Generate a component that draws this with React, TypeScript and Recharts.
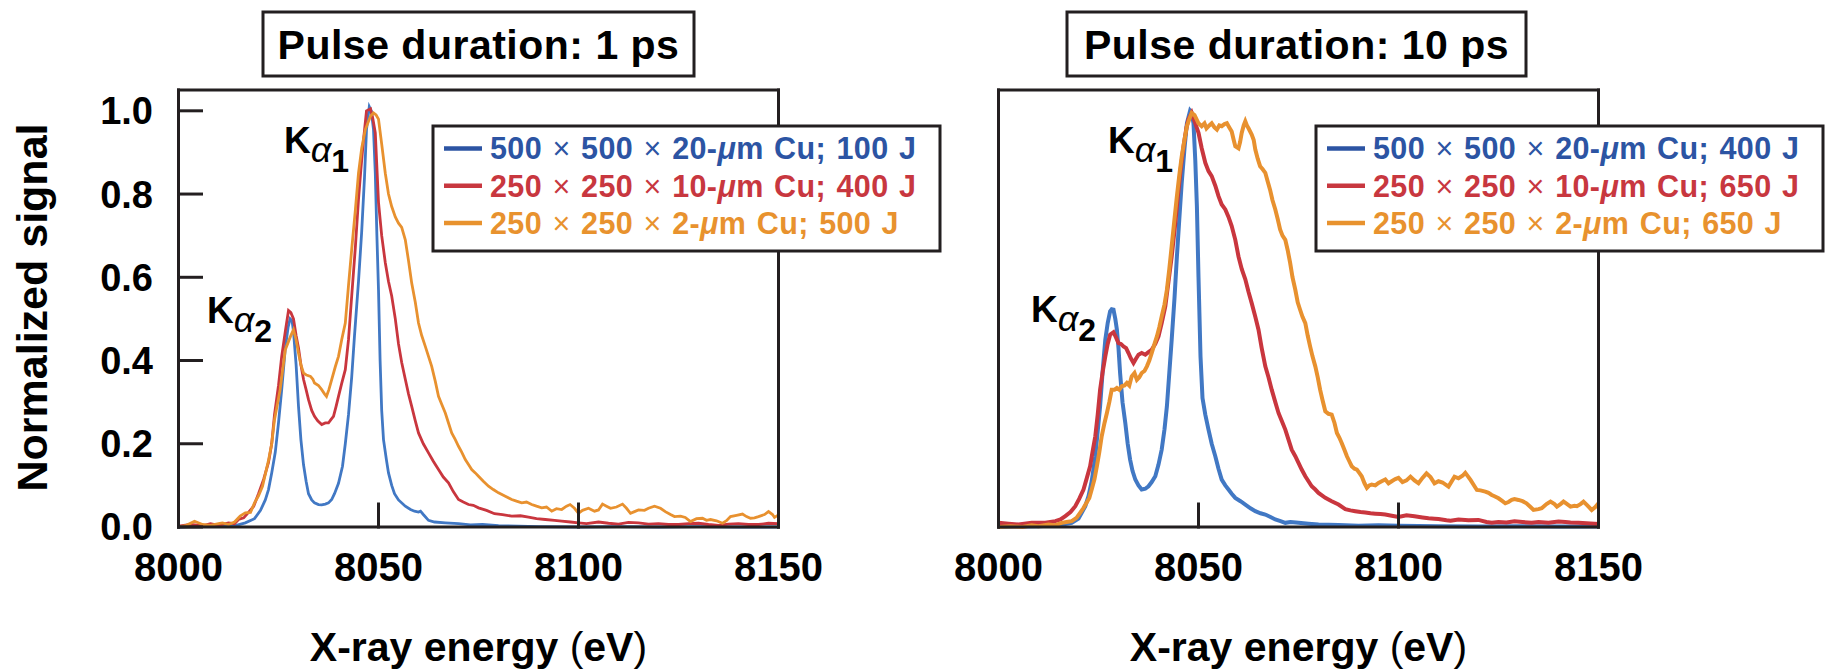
import { LineChart, Line, XAxis, YAxis } from "recharts";

// energy ticks and signal ticks
const xTicks = [8000, 8050, 8100, 8150];
const yTicks = [0, 0.2, 0.4, 0.6, 0.8, 1.0];

const titles = ["Pulse duration: 1 ps", "Pulse duration: 10 ps"];

// [energy (eV), normalized signal]
const blue1ps: [number, number][] = [
  [8000, 0], [8005, 0.002], [8010, 0.001], [8014, 0.003], [8016.7, 0.01], [8019, 0.02], [8020.5, 0.04],
  [8021.7, 0.065], [8022.5, 0.09], [8023.3, 0.13], [8024.2, 0.18], [8025, 0.25], [8025.8, 0.33], [8026.7, 0.43],
  [8027.4, 0.48], [8027.9, 0.5], [8028.4, 0.495], [8028.75, 0.47], [8029.4, 0.39], [8030, 0.29], [8030.6, 0.21],
  [8031.25, 0.15], [8031.9, 0.11], [8032.5, 0.08], [8033.3, 0.065], [8034, 0.058], [8035, 0.054], [8035.8, 0.053],
  [8036.7, 0.055], [8037.5, 0.058], [8038.3, 0.066], [8039, 0.08], [8040, 0.105], [8041, 0.146], [8041.7, 0.2],
  [8042.5, 0.27], [8043.3, 0.36], [8044, 0.46], [8045, 0.59], [8045.8, 0.71], [8046.5, 0.84], [8047, 0.955],
  [8047.7, 1.01], [8048.2, 1.0], [8048.75, 0.955], [8049.2, 0.85], [8049.6, 0.7], [8050, 0.57], [8050.4, 0.4],
  [8050.8, 0.28], [8051.25, 0.21], [8052, 0.16], [8052.5, 0.13], [8053.3, 0.1], [8054, 0.08], [8055, 0.065],
  [8056.7, 0.05], [8058, 0.042], [8059, 0.038], [8060, 0.036], [8060.5, 0.038], [8061.2, 0.03], [8062.5, 0.016],
  [8064, 0.012], [8066.7, 0.01], [8070, 0.008], [8073, 0.005], [8076, 0.006], [8080, 0.003], [8085, 0.002],
  [8090, 0.001], [8100, 0], [8110, 0.001], [8120, 0], [8130, 0.001], [8140, 0], [8150, 0],
];

const red1ps: [number, number][] = [
  [8000, 0.002], [8003, 0.006], [8006, 0.003], [8008, 0.008], [8010, 0.004], [8012.5, 0.01], [8014, 0.008],
  [8015, 0.018], [8016.3, 0.022], [8017.5, 0.035], [8018.8, 0.05], [8020, 0.08], [8021.3, 0.115], [8022.5, 0.155],
  [8023.3, 0.2], [8024, 0.27], [8025, 0.34], [8025.8, 0.41], [8026.7, 0.47], [8027.5, 0.52], [8028.1, 0.515],
  [8028.75, 0.5], [8029.4, 0.46], [8030, 0.43], [8030.6, 0.39], [8031.25, 0.355], [8031.9, 0.33], [8032.5, 0.306],
  [8033.3, 0.28], [8034, 0.266], [8034.8, 0.255], [8035.8, 0.246], [8036.7, 0.25], [8037.5, 0.25], [8038.1, 0.258],
  [8038.75, 0.266], [8039.4, 0.29], [8040, 0.314], [8040.8, 0.345], [8041.7, 0.378], [8042.5, 0.45], [8043.3, 0.555],
  [8044.2, 0.67], [8045, 0.787], [8045.6, 0.86], [8046.25, 0.93], [8047, 1.0], [8048, 1.005], [8048.6, 0.98],
  [8049.2, 0.947], [8050, 0.78], [8050.8, 0.7], [8051.7, 0.635], [8052.5, 0.59], [8053.3, 0.555], [8054.2, 0.5],
  [8055, 0.44], [8055.8, 0.395], [8056.7, 0.355], [8057.5, 0.32], [8058.3, 0.29], [8059.2, 0.255], [8060, 0.226],
  [8061.2, 0.2], [8062.5, 0.178], [8063.7, 0.158], [8065, 0.138], [8066.2, 0.12], [8067.5, 0.106], [8068.7, 0.085],
  [8070, 0.066], [8071.2, 0.06], [8072.5, 0.054], [8073.7, 0.052], [8075, 0.046], [8077, 0.04], [8079, 0.032],
  [8081, 0.03], [8083.3, 0.026], [8085.5, 0.027], [8087.5, 0.024], [8089.5, 0.02], [8091.7, 0.018], [8094, 0.016],
  [8095.8, 0.014], [8098, 0.012], [8100, 0.01], [8102, 0.008], [8105, 0.012], [8107.5, 0.009], [8110, 0.007],
  [8112.5, 0.011], [8115, 0.01], [8117.5, 0.007], [8120, 0.008], [8122.5, 0.006], [8125, 0.006], [8127.5, 0.008],
  [8130, 0.009], [8132.5, 0.006], [8135, 0.004], [8137.5, 0.007], [8140, 0.008], [8142.5, 0.006], [8145, 0.006],
  [8147.5, 0.009], [8150, 0.008],
];

const orange1ps: [number, number][] = [
  [8000, 0], [8002, 0.004], [8004, 0.014], [8006, 0.006], [8008, 0.004], [8010, 0.008], [8011, 0.01],
  [8012.5, 0.006], [8014, 0.012], [8015.4, 0.026], [8016.7, 0.034], [8018, 0.035], [8019, 0.058], [8020, 0.075],
  [8021, 0.098], [8022.5, 0.16], [8023.3, 0.2], [8024, 0.258], [8025.4, 0.33], [8026.7, 0.426], [8028, 0.458],
  [8028.75, 0.474], [8029.4, 0.45], [8030, 0.418], [8030.6, 0.39], [8031.25, 0.37], [8032, 0.365], [8033, 0.362],
  [8033.6, 0.355], [8034, 0.346], [8035, 0.34], [8035.8, 0.33], [8036.5, 0.32], [8037, 0.314], [8037.6, 0.33],
  [8038.3, 0.354], [8039.2, 0.385], [8040, 0.41], [8040.8, 0.45], [8041.7, 0.49], [8042.5, 0.58], [8043.3, 0.667],
  [8044.2, 0.76], [8045, 0.85], [8045.8, 0.91], [8046.7, 0.955], [8048, 0.987], [8048.75, 0.995], [8049.4, 0.99],
  [8050, 0.98], [8050.8, 0.92], [8051.7, 0.85], [8052.5, 0.8], [8053.3, 0.77], [8054.2, 0.745], [8055, 0.73],
  [8055.8, 0.72], [8056.7, 0.69], [8057.5, 0.64], [8058.3, 0.586], [8059.2, 0.54], [8060, 0.49], [8060.8, 0.46],
  [8061.7, 0.434], [8062.5, 0.41], [8063.3, 0.386], [8064.2, 0.35], [8065, 0.314], [8065.8, 0.295], [8066.7, 0.274],
  [8067.5, 0.25], [8068.3, 0.226], [8069.2, 0.21], [8070, 0.194], [8070.8, 0.18], [8071.7, 0.162], [8072.5, 0.15],
  [8073.3, 0.138], [8074.2, 0.13], [8075, 0.122], [8076.2, 0.11], [8077.5, 0.098], [8078.7, 0.09], [8080, 0.082],
  [8081.7, 0.074], [8083.3, 0.066], [8084.5, 0.062], [8085.8, 0.058], [8087, 0.06], [8088.3, 0.054], [8089.5, 0.05],
  [8090.8, 0.046], [8092, 0.048], [8093.3, 0.038], [8094.5, 0.044], [8095.8, 0.042], [8097, 0.05], [8097.9, 0.054],
  [8099, 0.045], [8100, 0.033], [8101, 0.04], [8102.5, 0.045], [8104, 0.038], [8105, 0.041], [8106, 0.055],
  [8107, 0.05], [8108, 0.045], [8109.5, 0.048], [8111, 0.055], [8112, 0.045], [8113, 0.033], [8114, 0.037],
  [8115, 0.041], [8116.5, 0.04], [8117.5, 0.045], [8119, 0.05], [8120.5, 0.045], [8121.7, 0.037], [8123, 0.03],
  [8124, 0.025], [8125.5, 0.026], [8126.7, 0.023], [8128, 0.013], [8129.5, 0.02], [8131, 0.021], [8132, 0.016],
  [8133, 0.018], [8134.5, 0.015], [8136, 0.009], [8137, 0.015], [8138, 0.025], [8139.5, 0.028], [8141, 0.031],
  [8142, 0.025], [8143, 0.021], [8144, 0.022], [8145, 0.025], [8146.5, 0.03], [8147.5, 0.037], [8148.5, 0.03],
  [8149, 0.023], [8150, 0.029],
];

const blue10ps: [number, number][] = [
  [8000, 0], [8005, 0.001], [8010, 0.002], [8015, 0.004], [8018.3, 0.01], [8020, 0.02], [8020.8, 0.034],
  [8021.7, 0.05], [8022.5, 0.074], [8023.3, 0.11], [8024.2, 0.17], [8024.8, 0.23], [8025.4, 0.29], [8026, 0.37],
  [8026.7, 0.45], [8027.3, 0.49], [8027.9, 0.518], [8028.3, 0.523], [8028.75, 0.522], [8029.2, 0.5], [8029.6, 0.474],
  [8030, 0.43], [8030.4, 0.37], [8031, 0.3], [8031.7, 0.25], [8032.3, 0.2], [8032.9, 0.162], [8033.5, 0.135],
  [8034.2, 0.114], [8035, 0.1], [8035.8, 0.09], [8036.7, 0.092], [8037.5, 0.098], [8038.3, 0.108], [8039.2, 0.122],
  [8040, 0.15], [8040.8, 0.186], [8041.5, 0.235], [8042.1, 0.29], [8042.7, 0.37], [8043.3, 0.45], [8044, 0.55],
  [8044.6, 0.65], [8045.2, 0.74], [8045.8, 0.827], [8046.5, 0.91], [8047.1, 0.97], [8047.9, 1.0], [8048.3, 0.995],
  [8048.75, 0.97], [8049.2, 0.88], [8049.6, 0.77], [8050, 0.6], [8050.5, 0.41], [8051, 0.31], [8051.7, 0.27],
  [8052.5, 0.234], [8053.3, 0.2], [8054.2, 0.17], [8055, 0.14], [8055.8, 0.114], [8056.7, 0.1], [8057.5, 0.09],
  [8058.3, 0.08], [8059.2, 0.07], [8060.5, 0.062], [8061.7, 0.054], [8063, 0.045], [8064.2, 0.038], [8065.5, 0.033],
  [8066.7, 0.03], [8068, 0.024], [8069.2, 0.018], [8070.5, 0.014], [8071.7, 0.01], [8073, 0.012], [8075, 0.01],
  [8077.5, 0.008], [8080, 0.006], [8085, 0.005], [8090, 0.003], [8095, 0.004], [8100, 0.003], [8110, 0.002],
  [8120, 0.001], [8130, 0.002], [8140, 0.001], [8150, 0.001],
];

const red10ps: [number, number][] = [
  [8000, 0.01], [8002.5, 0.008], [8005, 0.006], [8008.3, 0.01], [8011.7, 0.01], [8014.2, 0.014], [8015.5, 0.018],
  [8016.7, 0.026], [8018, 0.036], [8019.2, 0.05], [8020.2, 0.068], [8021.25, 0.09], [8022, 0.115], [8022.9, 0.146],
  [8023.5, 0.18], [8024.2, 0.218], [8024.8, 0.27], [8025.4, 0.33], [8026, 0.37], [8026.7, 0.41], [8027.3, 0.44],
  [8027.9, 0.462], [8028.75, 0.468], [8029.4, 0.455], [8030, 0.442], [8030.6, 0.44], [8031.25, 0.434], [8031.9, 0.43],
  [8032.5, 0.418], [8033.1, 0.405], [8033.75, 0.394], [8034.4, 0.405], [8035, 0.414], [8035.8, 0.418], [8036.7, 0.414],
  [8037.5, 0.42], [8038.3, 0.426], [8039.2, 0.44], [8040, 0.458], [8040.8, 0.49], [8041.7, 0.53], [8042.5, 0.59],
  [8043.3, 0.65], [8044.2, 0.73], [8045, 0.81], [8045.6, 0.865], [8046.25, 0.915], [8047, 0.96], [8047.5, 0.98],
  [8048.3, 0.995], [8049.2, 0.97], [8050, 0.947], [8050.8, 0.91], [8051.7, 0.875], [8052.5, 0.855], [8053.3, 0.843],
  [8054.2, 0.82], [8055, 0.795], [8055.8, 0.775], [8056.7, 0.763], [8057.5, 0.745], [8058.3, 0.723], [8059.2, 0.69],
  [8060, 0.65], [8060.8, 0.62], [8061.7, 0.595], [8062.5, 0.565], [8063.3, 0.538], [8064.2, 0.505], [8065, 0.474],
  [8065.8, 0.43], [8066.7, 0.386], [8067.5, 0.36], [8068.3, 0.33], [8069.2, 0.3], [8070, 0.274], [8070.8, 0.255],
  [8071.7, 0.234], [8072.5, 0.21], [8073.3, 0.186], [8074.2, 0.17], [8075, 0.154], [8075.8, 0.138], [8076.7, 0.122],
  [8077.5, 0.11], [8078.3, 0.098], [8079.2, 0.09], [8080, 0.082], [8081.7, 0.07], [8083.3, 0.062], [8085, 0.054],
  [8086.7, 0.043], [8088, 0.04], [8089.2, 0.038], [8090.5, 0.036], [8091.7, 0.035], [8093, 0.033], [8094.2, 0.032],
  [8095.5, 0.031], [8096.7, 0.03], [8098.3, 0.027], [8100, 0.024], [8102, 0.028], [8104, 0.026], [8106, 0.023],
  [8107.5, 0.021], [8109, 0.02], [8110, 0.019], [8112, 0.016], [8113, 0.015], [8115, 0.018], [8117.5, 0.016],
  [8120, 0.017], [8122, 0.012], [8123.3, 0.01], [8125, 0.012], [8127, 0.011], [8129, 0.014], [8131, 0.012],
  [8133.3, 0.01], [8135, 0.012], [8137.5, 0.01], [8140, 0.013], [8141.7, 0.012], [8143, 0.011], [8145, 0.01],
  [8147, 0.009], [8150, 0.007],
];

const orange10ps: [number, number][] = [
  [8000, 0], [8003, 0.002], [8006, 0], [8008.3, 0.004], [8010, 0.002], [8012.5, 0.006], [8014, 0.004],
  [8015.8, 0.01], [8017, 0.012], [8018.3, 0.014], [8019.5, 0.022], [8020.4, 0.034], [8021.2, 0.045], [8022, 0.058],
  [8022.7, 0.07], [8023.3, 0.09], [8024, 0.115], [8024.6, 0.146], [8025.2, 0.18], [8025.8, 0.218], [8026.5, 0.25],
  [8027.1, 0.274], [8027.7, 0.3], [8028.3, 0.33], [8029, 0.33], [8029.6, 0.334], [8030.2, 0.33], [8030.8, 0.338],
  [8031.5, 0.34], [8032.1, 0.346], [8032.7, 0.34], [8033.3, 0.362], [8034, 0.37], [8034.6, 0.354], [8035.2, 0.36],
  [8035.8, 0.37], [8036.5, 0.375], [8037.1, 0.386], [8037.7, 0.4], [8038.3, 0.418], [8039, 0.44], [8039.6, 0.458],
  [8040.2, 0.48], [8040.8, 0.506], [8041.5, 0.535], [8042.1, 0.57], [8042.7, 0.62], [8043.3, 0.675], [8044, 0.74],
  [8044.6, 0.795], [8045.2, 0.845], [8045.8, 0.89], [8046.5, 0.93], [8047.1, 0.963], [8047.7, 0.98], [8048.3, 0.995],
  [8049, 0.99], [8050, 0.97], [8050.8, 0.963], [8051.5, 0.97], [8052, 0.958], [8052.7, 0.965], [8053.3, 0.97],
  [8054, 0.96], [8054.6, 0.955], [8055.2, 0.965], [8055.8, 0.963], [8056.5, 0.968], [8057.1, 0.97], [8057.7, 0.96],
  [8058.3, 0.95], [8058.8, 0.93], [8059.2, 0.915], [8060, 0.91], [8060.4, 0.925], [8060.8, 0.947], [8061.3, 0.965],
  [8061.7, 0.975], [8062.1, 0.965], [8062.5, 0.958], [8063.3, 0.943], [8063.8, 0.93], [8064.2, 0.907], [8064.8, 0.885],
  [8065.4, 0.867], [8066, 0.86], [8066.7, 0.851], [8067.3, 0.83], [8067.9, 0.81], [8068.5, 0.785], [8069.2, 0.763],
  [8069.8, 0.74], [8070.4, 0.715], [8071, 0.7], [8071.7, 0.69], [8072.3, 0.665], [8072.9, 0.635], [8073.5, 0.6],
  [8074.2, 0.57], [8074.8, 0.54], [8075.4, 0.522], [8076, 0.505], [8076.7, 0.49], [8077.3, 0.46], [8077.9, 0.434],
  [8078.5, 0.41], [8079.2, 0.386], [8079.8, 0.36], [8080.4, 0.33], [8081, 0.305], [8081.7, 0.278], [8082.5, 0.272],
  [8083.3, 0.27], [8084, 0.25], [8084.6, 0.226], [8085.2, 0.215], [8085.8, 0.202], [8086.5, 0.185], [8087.1, 0.17],
  [8087.7, 0.158], [8088.3, 0.146], [8089, 0.14], [8089.6, 0.138], [8090.2, 0.13], [8090.8, 0.122], [8091.5, 0.105],
  [8092.1, 0.094], [8092.7, 0.1], [8093.3, 0.102], [8094.2, 0.1], [8095, 0.106], [8095.8, 0.11], [8096.7, 0.114],
  [8097.5, 0.105], [8098.3, 0.11], [8099.2, 0.115], [8100, 0.118], [8101, 0.108], [8102, 0.112], [8103, 0.121],
  [8104, 0.112], [8105, 0.105], [8106, 0.118], [8107, 0.129], [8108, 0.12], [8109, 0.105], [8110, 0.11],
  [8111, 0.107], [8112.5, 0.097], [8114, 0.121], [8115, 0.117], [8116, 0.123], [8116.7, 0.13], [8117.5, 0.12],
  [8118, 0.113], [8119, 0.098], [8119.6, 0.089], [8120.5, 0.088], [8121.7, 0.085], [8122.5, 0.082], [8123.3, 0.077],
  [8124, 0.074], [8125, 0.069], [8126, 0.062], [8126.7, 0.057], [8127.5, 0.06], [8128.3, 0.065], [8129, 0.067],
  [8130, 0.065], [8131, 0.062], [8132, 0.057], [8133, 0.048], [8133.75, 0.041], [8135, 0.043], [8135.8, 0.045],
  [8137, 0.055], [8138, 0.061], [8139, 0.055], [8139.6, 0.049], [8140.5, 0.055], [8141.25, 0.061], [8142, 0.056],
  [8143, 0.049], [8144, 0.051], [8144.6, 0.05], [8145.5, 0.055], [8146.25, 0.061], [8147.2, 0.052], [8148.3, 0.041],
  [8149.2, 0.048], [8150, 0.057],
];

// target size (µm) and laser energy (J) for each legend row
const targets1ps = [[500, 500, 20], [250, 250, 10], [250, 250, 2]];
const energies1ps = [100, 400, 500];
const targets10ps = [[500, 500, 20], [250, 250, 10], [250, 250, 2]];
const energies10ps = [400, 650, 650];

const FONT = "'Liberation Sans', Arial, Helvetica, sans-serif";
const INK = "#231f20";
const lineColors = ["#4178c4", "#c9363e", "#e8912f"];
const textColors = ["#2c54a3", "#c8373f", "#e8922e"];

const axisStyle = { stroke: INK, strokeWidth: 3, strokeLinecap: "square" as const };

const toRows = (pts: [number, number][]) => pts.map(([e, v]) => ({ e, v }));

type PanelProps = {
  left: number;
  series: [number, number][][];
  strokeWidth: number;
  showYTicks: boolean;
};

const Panel = ({ left, series, strokeWidth, showYTicks }: PanelProps) => (
  <div style={{ position: "absolute", left, top: 0 }}>
    <LineChart width={860} height={672} margin={{ top: 60, right: 61.5, bottom: 65, left: 98.5 }}>
      <XAxis
        xAxisId="b"
        type="number"
        dataKey="e"
        domain={[8000, 8150]}
        ticks={xTicks}
        interval={0}
        height={80}
        tickSize={-23}
        tickMargin={48.6}
        axisLine={axisStyle}
        tickLine={axisStyle}
        tick={{ fill: "#000", fontSize: 40, fontWeight: 700, fontFamily: FONT }}
      />
      <XAxis
        xAxisId="t"
        orientation="top"
        type="number"
        dataKey="e"
        domain={[8000, 8150]}
        ticks={xTicks}
        interval={0}
        height={30}
        tickSize={-23}
        axisLine={axisStyle}
        tickLine={axisStyle}
        tick={false}
      />
      <YAxis
        yAxisId="l"
        type="number"
        domain={[0, 1.05]}
        ticks={yTicks}
        interval={0}
        width={80}
        tickSize={-23}
        tickMargin={48.5}
        axisLine={axisStyle}
        tickLine={axisStyle}
        tickFormatter={(v: number) => v.toFixed(1)}
        tick={showYTicks ? { fill: "#000", fontSize: 38, fontWeight: 700, fontFamily: FONT } : false}
      />
      <YAxis
        yAxisId="r"
        orientation="right"
        type="number"
        domain={[0, 1.05]}
        ticks={yTicks}
        interval={0}
        width={20}
        tickSize={-23}
        axisLine={axisStyle}
        tickLine={axisStyle}
        tick={false}
      />
      {series.map((pts, i) => (
        <Line
          key={i}
          xAxisId="b"
          yAxisId="l"
          data={toRows(pts)}
          dataKey="v"
          type="linear"
          stroke={lineColors[i]}
          strokeWidth={strokeWidth}
          dot={false}
          isAnimationActive={false}
        />
      ))}
    </LineChart>
  </div>
);

const Kalpha = ({ x, y, n }: { x: number; y: number; n: number }) => (
  <text x={x} y={y} fontFamily={FONT} fill="#000">
    <tspan fontSize={37} fontWeight={700}>K</tspan>
    <tspan fontSize={36} fontStyle="italic" dy={9}>α</tspan>
    <tspan fontSize={32} fontWeight={700} dy={10}>{n}</tspan>
  </text>
);

const LegendBox = ({ x, dims, energies }: { x: number; dims: number[][]; energies: number[] }) => (
  <g>
    <rect x={x} y={126} width={507} height={125} fill="#fff" stroke={INK} strokeWidth={3} />
    {dims.map((d, i) => {
      const cy = 148.5 + i * 37.3;
      return (
        <g key={i}>
          <line x1={x + 11} x2={x + 49} y1={cy} y2={cy} stroke={textColors[i]} strokeWidth={4.5} />
          <text
            x={x + 57}
            y={cy + 10.8}
            fill={textColors[i]}
            fontFamily={FONT}
            fontSize={30.5}
            fontWeight={700}
            letterSpacing={0.4}
            wordSpacing={1.5}
          >
            {d[0]} <tspan fontWeight={400}>×</tspan> {d[1]} <tspan fontWeight={400}>×</tspan> {d[2]}-<tspan fontStyle="italic">μ</tspan>m Cu; {energies[i]} J
          </text>
        </g>
      );
    })}
  </g>
);

const TitleBox = ({ cx, w, text }: { cx: number; w: number; text: string }) => (
  <g>
    <rect x={cx - w / 2} y={12} width={w} height={64} fill="#fff" stroke={INK} strokeWidth={3} />
    <text x={cx} y={59} textAnchor="middle" fontFamily={FONT} fontSize={41} fontWeight={700} letterSpacing={0.5} fill="#000">
      {text}
    </text>
  </g>
);

const XTitle = ({ cx }: { cx: number }) => (
  <text x={cx} y={661} textAnchor="middle" fontFamily={FONT} fontSize={41} fontWeight={700} fill="#000">
    X-ray energy <tspan fontWeight={400}>(</tspan>eV<tspan fontWeight={400}>)</tspan>
  </text>
);

export default function App() {
  return (
    <div style={{ position: "absolute", left: 0, top: 0, width: 1828, height: 672, background: "#fff", overflow: "hidden" }}>
      <Panel left={0} series={[blue1ps, red1ps, orange1ps]} strokeWidth={2.8} showYTicks />
      <Panel left={820} series={[blue10ps, red10ps, orange10ps]} strokeWidth={4} showYTicks={false} />
      <svg width={1828} height={672} style={{ position: "absolute", left: 0, top: 0, pointerEvents: "none" }}>
        <TitleBox cx={478.5} w={431} text={titles[0]} />
        <TitleBox cx={1296.5} w={459} text={titles[1]} />
        <text
          transform="translate(47,307.5) rotate(-90)"
          textAnchor="middle"
          fontFamily={FONT}
          fontSize={43}
          fontWeight={700}
          fill="#000"
        >
          Normalized signal
        </text>
        <XTitle cx={478.5} />
        <XTitle cx={1298.5} />
        <Kalpha x={284} y={153} n={1} />
        <Kalpha x={207} y={323} n={2} />
        <Kalpha x={1108} y={153} n={1} />
        <Kalpha x={1031} y={322} n={2} />
        <LegendBox x={433} dims={targets1ps} energies={energies1ps} />
        <LegendBox x={1316} dims={targets10ps} energies={energies10ps} />
      </svg>
    </div>
  );
}
